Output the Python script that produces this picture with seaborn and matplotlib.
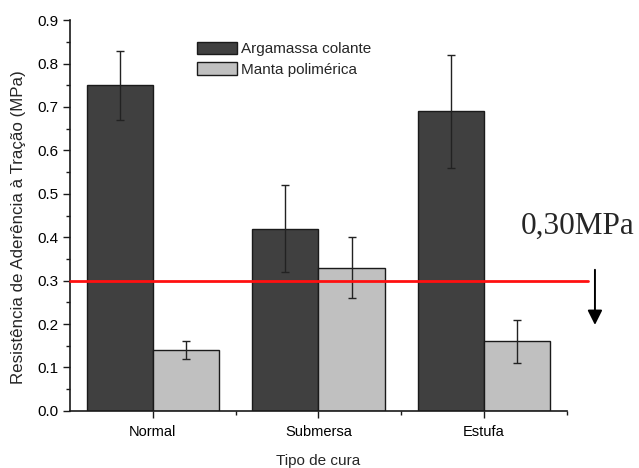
import matplotlib
matplotlib.use("Agg")
import matplotlib.pyplot as plt
from matplotlib.patches import Patch
from matplotlib.ticker import MultipleLocator, FormatStrFormatter
import pandas as pd
import seaborn as sns

# Bond strength by curing type
categories = ["Normal", "Submersa", "Estufa"]
series_names = ["Argamassa colante", "Manta polimérica"]
argamassa = [0.75, 0.42, 0.69]
argamassa_err = [0.08, 0.10, 0.13]
manta = [0.14, 0.33, 0.16]
manta_err = [0.02, 0.07, 0.05]
limit_value = 0.30
limit_label = "0,30MPa"

colors = ["#404040", "#c0c0c0"]

df = pd.DataFrame({
    "cura": categories * 2,
    "serie": [series_names[0]] * 3 + [series_names[1]] * 3,
    "valor": argamassa + manta,
    "erro": argamassa_err + manta_err,
})

sns.set_theme(style="ticks")
plt.rcParams["font.family"] = ["Liberation Sans", "DejaVu Sans"]

fig = plt.figure(figsize=(6.39, 4.68), dpi=100)
ax = fig.add_axes([0.1095, 0.122, 0.7775, 0.835])

sns.barplot(data=df, x="cura", y="valor", hue="serie", order=categories,
            hue_order=series_names, palette=colors, errorbar=None,
            width=0.8, edgecolor="#1a1a1a", linewidth=1.0, saturation=1,
            legend=False, ax=ax)

# error bars at the bar centres
for patch_group, vals, errs in zip(ax.containers, [argamassa, manta],
                                    [argamassa_err, manta_err]):
    xs = [p.get_x() + p.get_width() / 2 for p in patch_group]
    ax.errorbar(xs, vals, yerr=errs, fmt="none", ecolor="#222222",
                elinewidth=1.0, capsize=2.7, capthick=1.0, zorder=4)

ax.set_xlim(-0.5, 2.5)
ax.set_ylim(0, 0.9)
ax.yaxis.set_major_locator(MultipleLocator(0.1))
ax.yaxis.set_minor_locator(MultipleLocator(0.05))
ax.set_xticks([0, 1, 2])
ax.set_xticks([0.5, 1.5, 2.5], minor=True)
ax.set_xticklabels(categories)
ax.yaxis.set_major_formatter(FormatStrFormatter("%.1f"))

for side in ["top", "right"]:
    ax.spines[side].set_visible(False)
for side in ["left", "bottom"]:
    ax.spines[side].set_color("#1a1a1a")
    ax.spines[side].set_linewidth(1.2)

ax.tick_params(axis="both", which="major", direction="out", length=5,
               width=1.0, color="#1a1a1a", labelsize=10.5, labelcolor="black")
ax.tick_params(axis="y", which="major", labelsize=11)
ax.tick_params(axis="both", which="minor", direction="out", length=3,
               width=1.0, color="#1a1a1a")
ax.tick_params(axis="x", which="major", pad=5)

ax.set_xlabel("Tipo de cura", fontsize=11, labelpad=11)
ax.set_ylabel("Resistência de Aderência à Tração (MPa)", fontsize=12.2)
ax.yaxis.set_label_coords(-0.088, 0.47)

# minimum-requirement line and marker
ax.plot([-0.5, 2.63], [limit_value, limit_value], color="#ff1010",
        linewidth=2.0, clip_on=False, zorder=5)
ax.annotate("", xy=(2.67, 0.198), xytext=(2.67, 0.325),
            xycoords="data", textcoords="data", annotation_clip=False,
            arrowprops=dict(arrowstyle="-|>", color="black", lw=1.4,
                            mutation_scale=22, shrinkA=0, shrinkB=0))
ax.text(2.565, 0.424, limit_label, fontsize=22.5, ha="center", va="center",
        family=["Liberation Serif", "DejaVu Serif"], clip_on=False)

handles = [Patch(facecolor=c, edgecolor="#1a1a1a", linewidth=1.0) for c in colors]
ax.legend(handles, series_names, loc="upper left",
          bbox_to_anchor=(0.243, 0.96), frameon=False, fontsize=11,
          handlelength=2.6, handleheight=0.85, handletextpad=0.3,
          labelspacing=0.4, borderaxespad=0)

fig.savefig("out.png", dpi=100)
